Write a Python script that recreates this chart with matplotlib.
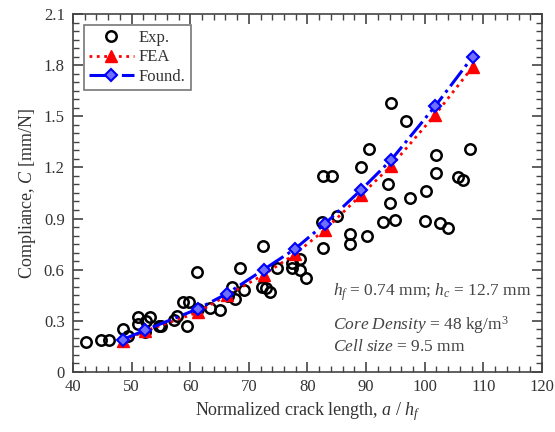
import matplotlib
matplotlib.use("Agg")
import matplotlib.pyplot as plt
from matplotlib.ticker import MultipleLocator

plt.rcParams['font.family'] = ['Liberation Serif', 'DejaVu Serif']
plt.rcParams['mathtext.fontset'] = 'custom'
plt.rcParams['mathtext.rm'] = 'Liberation Serif'
plt.rcParams['mathtext.it'] = 'Liberation Serif:italic'

exp_x = [42.3, 44.8, 46.2, 48.6, 49.3, 51.1, 51.1, 52.5, 53.2, 52.3, 54.6, 55.0,
         57.2, 57.7, 58.7, 59.8, 59.5, 61.1, 61.3, 63.4, 65.1,
         66.5, 67.2, 67.6, 69.1, 68.5, 72.4, 72.3, 72.9, 73.6, 74.8,
         77.3, 77.4, 78.7, 78.8, 79.7,
         82.7, 82.4, 85.0, 82.6, 84.1, 87.3, 87.3, 90.1, 89.2, 90.5,
         94.2, 96.8, 93.8, 94.0, 97.5, 101.9, 101.9, 100.3, 107.7, 105.6, 106.5,
         92.9, 95.0, 100.1, 102.6, 103.9]
exp_y = [0.178, 0.19, 0.186, 0.25, 0.21, 0.32, 0.28, 0.30, 0.32, 0.235, 0.267, 0.267,
         0.306, 0.33, 0.41, 0.41, 0.267, 0.584, 0.369, 0.378, 0.365,
         0.447, 0.50, 0.43, 0.478, 0.61, 0.737, 0.50, 0.49, 0.47, 0.61,
         0.64, 0.61, 0.66, 0.60, 0.55,
         0.73, 0.88, 0.915, 1.15, 1.15, 0.81, 0.75, 0.80, 1.20, 1.306,
         1.576, 1.47, 1.10, 0.99, 1.02, 1.27, 1.17, 1.06, 1.31, 1.143, 1.124,
         0.878, 0.89, 0.888, 0.875, 0.845]

model_x = [48.5, 52.3, 61.3, 66.3, 72.5, 77.8, 83.0, 89.2, 94.3, 101.8, 108.2]
fea_y = [0.18, 0.24, 0.35, 0.45, 0.57, 0.69, 0.835, 1.04, 1.21, 1.51, 1.79]
found_y = [0.19, 0.245, 0.37, 0.46, 0.60, 0.72, 0.87, 1.07, 1.245, 1.56, 1.85]

fig = plt.figure(figsize=(5.55, 4.32), dpi=100)
ax = fig.add_axes([0.1315, 0.139, 0.845, 0.8286])

ax.plot(exp_x, exp_y, linestyle='none', marker='o', ms=7.5, mfc='none',
        mec='black', mew=1.8, label='Exp.', zorder=3)
ax.plot(model_x, fea_y, linestyle=':', color='red', lw=2, marker='^', ms=9,
        mfc='red', mec='red', label='FEA', zorder=4)
ax.plot(model_x, found_y, linestyle='-.', color='blue', lw=2.2, marker='D', ms=6.5,
        mfc='#7070ff', mec='blue', mew=1.5, label='Found.', zorder=5)

ax.set_xlim(40, 120)
ax.set_ylim(0, 2.1)
ax.xaxis.set_major_locator(MultipleLocator(10))
ax.xaxis.set_minor_locator(MultipleLocator(2))
ax.yaxis.set_major_locator(MultipleLocator(0.3))
ax.yaxis.set_minor_locator(MultipleLocator(0.05))
ax.yaxis.set_major_formatter(plt.FuncFormatter(lambda v, p: '0' if abs(v) < 1e-9 else f'{v:.1f}'))

for s in ax.spines.values():
    s.set_color('#444444')
    s.set_linewidth(1.2)
ax.tick_params(which='both', direction='in', top=True, right=True, colors='#444444',
               labelcolor='#333333', labelsize=12)
ax.tick_params(axis='y', which='major', pad=6)
ax.tick_params(axis='x', which='major', pad=5)
ax.tick_params(which='major', length=7, width=1.2)
ax.tick_params(which='minor', length=4, width=1.0)

ax.set_xlabel('Normalized crack length, $a$ / $h_f$', fontsize=13, color='#333333')
ax.set_ylabel('Compliance, $C$ [mm/N]', fontsize=13, color='#333333')

leg = ax.legend(loc='upper left', fontsize=12, frameon=True, fancybox=False,
                edgecolor='#555555', borderpad=0.3, labelspacing=0.22,
                handlelength=2.7, handletextpad=0.3, borderaxespad=0.65)
leg.get_frame().set_linewidth(1.2)
for t in leg.get_texts():
    t.set_color('#333333')

ax.text(0.555, 0.224, '$h_f$ = 0.74 mm; $h_c$ = 12.7 mm', transform=ax.transAxes,
        ha='left', va='center', fontsize=12.5, color='#444444')
ax.text(0.555, 0.132, '$Core\\ Density$ = 48 kg/m$^3$', transform=ax.transAxes,
        ha='left', va='center', fontsize=12.5, color='#444444')
ax.text(0.555, 0.07, '$Cell\\ size$ = 9.5 mm', transform=ax.transAxes,
        ha='left', va='center', fontsize=12.5, color='#444444')

fig.savefig('out.png', dpi=100)
